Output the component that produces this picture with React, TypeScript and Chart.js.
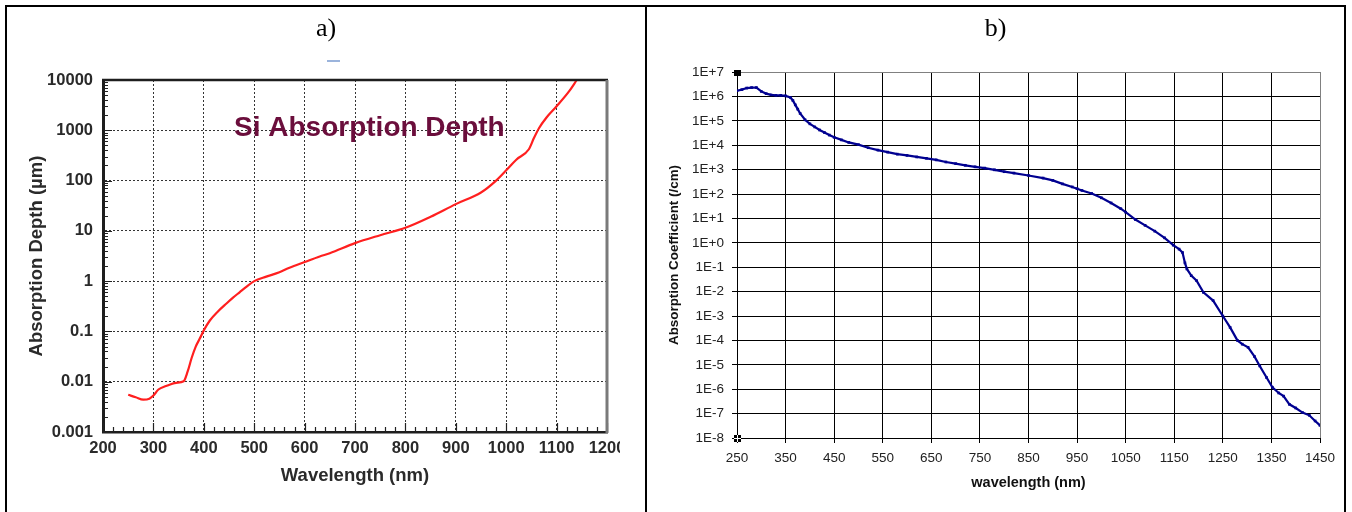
import React, { useEffect, useRef } from 'react';
import { Chart, registerables } from 'chart.js';

Chart.register(...registerables);

// ---------- Panel a: Si absorption depth ----------
const wavelengthA = [250, 265, 280, 292, 300, 310, 325, 345, 360, 368, 376, 384, 392, 400, 412, 428, 445, 458, 471, 485, 500, 524, 550, 570, 600, 630, 650, 700, 750, 800, 850, 900, 950, 980, 1000, 1020, 1045, 1055, 1065, 1080, 1100, 1125, 1140];
const depthA = [0.0055, 0.0049, 0.0044, 0.0046, 0.0053, 0.007, 0.0082, 0.0095, 0.0102, 0.016, 0.03, 0.05, 0.072, 0.105, 0.165, 0.25, 0.36, 0.47, 0.6, 0.78, 1.0, 1.23, 1.5, 1.85, 2.4, 3.1, 3.6, 5.7, 8.2, 11.5, 19, 34, 58, 100, 160, 260, 420, 700, 1100, 1800, 3000, 6000, 10000];
const xTicksA = [200, 300, 400, 500, 600, 700, 800, 900, 1000, 1100, 1200];
const xTickLabelsA = ['200', '300', '400', '500', '600', '700', '800', '900', '1000', '1100', '1200'];
const yTicksA = [0.001, 0.01, 0.1, 1, 10, 100, 1000, 10000];
const yTickLabelsA = ['0.001', '0.01', '0.1', '1', '10', '100', '1000', '10000'];
const titleA = 'a)';
const annotationA = 'Si Absorption Depth';
const xTitleA = 'Wavelength (nm)';
const yTitleA = 'Absorption Depth (\u00b5m)';

// ---------- Panel b: absorption coefficient ----------
const wavelengthB = [250, 260, 270, 280, 290, 300, 310, 320, 330, 340, 350, 360, 365, 370, 375, 380, 390, 400, 410, 420, 430, 440, 450, 465, 480, 500, 520, 540, 560, 580, 600, 620, 640, 660, 680, 700, 720, 740, 760, 780, 800, 820, 850, 880, 900, 920, 940, 950, 960, 980, 1000, 1020, 1040, 1050, 1070, 1090, 1110, 1130, 1148, 1160, 1167, 1172, 1176, 1185, 1196, 1210, 1230, 1250, 1265, 1280, 1290, 1302, 1315, 1326, 1340, 1352, 1365, 1375, 1387, 1400, 1414, 1428, 1440, 1450];
const coeffB = [1.7e6, 1.9e6, 2.2e6, 2.3e6, 2.3e6, 1.6e6, 1.3e6, 1.15e6, 1.1e6, 1.1e6, 1.05e6, 9e5, 6.8e5, 4.5e5, 3e5, 2e5, 1.1e5, 7.5e4, 5.6e4, 4.2e4, 3.3e4, 2.6e4, 2.1e4, 1.65e4, 1.3e4, 1.05e4, 7.9e3, 6.3e3, 5.2e3, 4.3e3, 3.8e3, 3.3e3, 2.9e3, 2.5e3, 2.05e3, 1.75e3, 1.5e3, 1.3e3, 1.15e3, 980, 820, 720, 575, 450, 360, 260, 195, 165, 140, 105, 70, 43, 25, 18, 9.0, 5.2, 3.0, 1.6, 0.8, 0.55, 0.4, 0.15, 0.085, 0.045, 0.028, 0.0093, 0.0043, 1e-3, 3.4e-4, 1e-4, 7e-5, 5.2e-5, 2.2e-5, 9e-6, 3e-6, 1.2e-6, 7e-7, 5.2e-7, 2.4e-7, 1.7e-7, 1.1e-7, 8.5e-8, 5e-8, 3.3e-8];
const xTicksB = [250, 350, 450, 550, 650, 750, 850, 950, 1050, 1150, 1250, 1350, 1450];
const xTickLabelsB = ['250', '350', '450', '550', '650', '750', '850', '950', '1050', '1150', '1250', '1350', '1450'];
const yTicksB = [1e-8, 1e-7, 1e-6, 1e-5, 1e-4, 1e-3, 1e-2, 1e-1, 1, 1e1, 1e2, 1e3, 1e4, 1e5, 1e6, 1e7];
const yTickLabelsB = ['1E-8', '1E-7', '1E-6', '1E-5', '1E-4', '1E-3', '1E-2', '1E-1', '1E+0', '1E+1', '1E+2', '1E+3', '1E+4', '1E+5', '1E+6', '1E+7'];
const titleB = 'b)';
const xTitleB = 'wavelength (nm)';
const yTitleB = 'Absorption Coefficient (/cm)';

const SANS = '"Liberation Sans", Arial, Helvetica, sans-serif';
const SERIF = '"Liberation Serif", "Times New Roman", serif';

const frameAPlugin = {
  id: 'frameA',
  afterDatasetsDraw(chart: any) {
    const { ctx, chartArea: ca, scales } = chart;
    const xs = scales.x;
    const ys = scales.y;
    ctx.save();
    ctx.strokeStyle = '#222';
    ctx.lineWidth = 1.2;
    ctx.beginPath();
    for (let e = -3; e <= 3; e++) {
      for (let m = 1; m <= 9; m++) {
        const py = Math.round(ys.getPixelForValue(m * Math.pow(10, e))) + 0.5;
        const len = m === 1 ? 9 : 5;
        ctx.moveTo(ca.left, py);
        ctx.lineTo(ca.left + len, py);
      }
    }
    for (let v = 200; v <= 1200; v += 20) {
      const px = Math.round(xs.getPixelForValue(v)) + 0.5;
      const len = v % 100 === 0 ? 9 : 5;
      ctx.moveTo(px, ca.bottom);
      ctx.lineTo(px, ca.bottom - len);
    }
    ctx.stroke();
    // top frame
    ctx.lineWidth = 2.5;
    ctx.strokeStyle = '#1e1e1e';
    ctx.beginPath();
    ctx.moveTo(ca.left - 1, ca.top);
    ctx.lineTo(ca.right + 1, ca.top);
    ctx.stroke();
    // right frame
    ctx.lineWidth = 3;
    ctx.strokeStyle = '#7a7a7a';
    ctx.beginPath();
    ctx.moveTo(ca.right, ca.top);
    ctx.lineTo(ca.right, ca.bottom + 1);
    ctx.stroke();
    // annotation
    ctx.font = `bold 28px ${SANS}`;
    ctx.fillStyle = '#6b0e3c';
    ctx.textBaseline = 'alphabetic';
    ctx.textAlign = 'left';
    ctx.fillText(annotationA, xs.getPixelForValue(460), ys.getPixelForValue(1000) + 6);
    ctx.restore();
  },
};

const frameBPlugin = {
  id: 'frameB',
  afterDatasetsDraw(chart: any) {
    const { ctx, chartArea: ca } = chart;
    ctx.save();
    ctx.fillStyle = '#000';
    ctx.fillRect(Math.round(ca.left) - 3, Math.round(ca.top) - 2, 7, 6);
    ctx.fillRect(Math.round(ca.left) - 3, Math.round(ca.bottom) - 3, 7, 7);
    ctx.fillStyle = '#fff';
    ctx.fillRect(Math.round(ca.left), Math.round(ca.bottom) - 3, 1, 7);
    ctx.fillRect(Math.round(ca.left) - 3, Math.round(ca.bottom), 7, 1);
    ctx.restore();
  },
};

function buildConfigA(): any {
  return {
    type: 'line',
    data: {
      datasets: [
        {
          data: wavelengthA.map((w, i) => ({ x: w, y: depthA[i] })),
          borderColor: '#ff1f1f',
          borderWidth: 2.2,
          pointRadius: 0,
          cubicInterpolationMode: 'monotone',
          fill: false,
        },
      ],
    },
    options: {
      responsive: false,
      animation: false,
      devicePixelRatio: 1,
      events: [],
      layout: { padding: { left: 15, right: 13, top: 80, bottom: 0 } },
      plugins: { legend: { display: false }, tooltip: { enabled: false } },
      scales: {
        x: {
          type: 'linear',
          min: 200,
          max: 1200,
          afterBuildTicks: (s: any) => {
            s.ticks = xTicksA.map((v) => ({ value: v }));
          },
          afterFit: (s: any) => {
            s.height = 80;
            s.paddingLeft = 0;
            s.paddingRight = 0;
          },
          grid: { color: '#333', lineWidth: 1, drawTicks: false },
          border: { display: true, color: '#1e1e1e', width: 2.5, dash: [2, 2] },
          ticks: {
            autoSkip: false,
            maxRotation: 0,
            minRotation: 0,
            padding: 7,
            color: '#2a2a2a',
            font: { family: SANS, size: 16.5, weight: 'bold' },
            callback: (_v: any, i: number) => xTickLabelsA[i],
          },
          title: {
            display: true,
            text: xTitleA,
            color: '#2a2a2a',
            font: { family: SANS, size: 18.5, weight: 'bold' },
            padding: { top: 0, bottom: 25 },
          },
        },
        y: {
          type: 'logarithmic',
          min: 0.001,
          max: 10000,
          afterBuildTicks: (s: any) => {
            s.ticks = yTicksA.map((v) => ({ value: v }));
          },
          afterFit: (s: any) => {
            s.width = 80;
            s.paddingTop = 0;
            s.paddingBottom = 0;
          },
          grid: { color: '#333', lineWidth: 1, drawTicks: false },
          border: { display: true, color: '#1e1e1e', width: 3, dash: [2, 2] },
          ticks: {
            autoSkip: false,
            padding: 10,
            color: '#2a2a2a',
            font: { family: SANS, size: 16.5, weight: 'bold' },
            callback: (_v: any, i: number) => yTickLabelsA[i],
          },
          title: {
            display: true,
            text: yTitleA,
            color: '#2a2a2a',
            font: { family: SANS, size: 18.5, weight: 'bold' },
            padding: { top: 3, bottom: 0 },
          },
        },
      },
    },
    plugins: [frameAPlugin],
  };
}

function buildConfigB(): any {
  return {
    type: 'line',
    data: {
      datasets: [
        {
          data: wavelengthB.map((w, i) => ({ x: w, y: coeffB[i] })),
          borderColor: '#000090',
          borderWidth: 2.2,
          pointRadius: 1.9,
          pointStyle: 'rect',
          pointBackgroundColor: '#000090',
          pointBorderColor: '#000090',
          pointBorderWidth: 0,
          tension: 0,
          fill: false,
        },
      ],
    },
    options: {
      responsive: false,
      animation: false,
      devicePixelRatio: 1,
      events: [],
      layout: { padding: { left: 9, right: 23, top: 72, bottom: 0 } },
      plugins: { legend: { display: false }, tooltip: { enabled: false } },
      scales: {
        x: {
          type: 'linear',
          min: 250,
          max: 1450,
          afterBuildTicks: (s: any) => {
            s.ticks = xTicksB.map((v) => ({ value: v }));
          },
          afterFit: (s: any) => {
            s.height = 74;
            s.paddingLeft = 0;
            s.paddingRight = 0;
          },
          grid: {
            color: (c: any) => (c.index === xTicksB.length - 1 ? '#808080' : '#000'),
            lineWidth: 1,
            drawTicks: true,
            tickLength: 5,
            tickColor: '#000',
          },
          border: { display: true, color: '#000', width: 1 },
          ticks: {
            autoSkip: false,
            maxRotation: 0,
            minRotation: 0,
            padding: 7.5,
            color: '#222',
            font: { family: SANS, size: 13.5 },
            callback: (_v: any, i: number) => xTickLabelsB[i],
          },
          title: {
            display: true,
            text: xTitleB,
            color: '#111',
            font: { family: SANS, size: 14.5, weight: 'bold' },
            padding: { top: 0, bottom: 20 },
          },
        },
        y: {
          type: 'logarithmic',
          min: 1e-8,
          max: 1e7,
          afterBuildTicks: (s: any) => {
            s.ticks = yTicksB.map((v) => ({ value: v }));
          },
          afterFit: (s: any) => {
            s.width = 80;
            s.paddingTop = 0;
            s.paddingBottom = 0;
          },
          grid: {
            color: (c: any) => (c.index === yTicksB.length - 1 ? '#808080' : '#000'),
            lineWidth: 1,
            drawTicks: true,
            tickLength: 5,
            tickColor: '#000',
          },
          border: { display: true, color: '#000', width: 1 },
          ticks: {
            autoSkip: false,
            padding: 8,
            color: '#222',
            font: { family: SANS, size: 13.5 },
            callback: (_v: any, i: number) => yTickLabelsB[i],
          },
          title: {
            display: true,
            text: yTitleB,
            color: '#111',
            font: { family: SANS, size: 13.4, weight: 'bold' },
            padding: { top: 9, bottom: 0 },
          },
        },
      },
    },
    plugins: [frameBPlugin],
  };
}

export default function App() {
  const refA = useRef<HTMLCanvasElement>(null);
  const refB = useRef<HTMLCanvasElement>(null);

  useEffect(() => {
    const a = new Chart(refA.current as HTMLCanvasElement, buildConfigA());
    const b = new Chart(refB.current as HTMLCanvasElement, buildConfigB());
    return () => {
      a.destroy();
      b.destroy();
    };
  }, []);

  const line = (l: number, t: number, w: number, h: number) => (
    <div style={{ position: 'absolute', left: l, top: t, width: w, height: h, background: '#000' }} />
  );

  return (
    <div style={{ position: 'absolute', left: 0, top: 0, width: 1352, height: 512, background: '#fff', overflow: 'hidden' }}>
      <canvas ref={refA} width={612} height={512} style={{ position: 'absolute', left: 8, top: 0 }} />
      <canvas ref={refB} width={695} height={512} style={{ position: 'absolute', left: 648, top: 0 }} />
      <div style={{ position: 'absolute', left: 7, top: 14, width: 638, textAlign: 'center', font: `26px ${SERIF}`, lineHeight: '28px', color: '#000' }}>{titleA}</div>
      <div style={{ position: 'absolute', left: 647, top: 14, width: 697, textAlign: 'center', font: `26px ${SERIF}`, lineHeight: '28px', color: '#000' }}>{titleB}</div>
      <div style={{ position: 'absolute', left: 327, top: 60, width: 13, height: 2, background: '#9bb4dc' }} />
      {line(5, 5, 1341, 2)}
      {line(5, 5, 2, 507)}
      {line(645, 5, 2, 507)}
      {line(1344, 5, 2, 507)}
    </div>
  );
}
